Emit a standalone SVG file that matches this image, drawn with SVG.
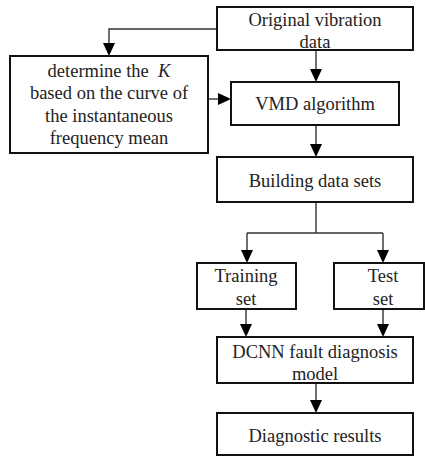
<svg xmlns="http://www.w3.org/2000/svg" width="425" height="457" viewBox="0 0 425 457">
<style>
.box{fill:#fff;stroke:#111;stroke-width:2}
.t{font-family:"Liberation Serif","Times New Roman",serif;font-size:18.5px;fill:#222;text-anchor:middle}
.c{fill:none;stroke:#333;stroke-width:1.4}
.ah{fill:#000}
</style>
<rect width="425" height="457" fill="#fff"/>
<g id="connectors">
<path class="c" d="M217,29 H109 V43"/>
<path class="ah" d="M103,43 L115,43 L109,56 Z"/>
<path class="c" d="M316,50 V69"/>
<path class="ah" d="M310,69 L322,69 L316,82 Z"/>
<path class="c" d="M208,99 H218"/>
<path class="ah" d="M218,93 L218,105 L231,99 Z"/>
<path class="c" d="M316,125 V144"/>
<path class="ah" d="M310,144 L322,144 L316,157 Z"/>
<path class="c" d="M316,202 V233 M247,233 H383 M247,233 V250 M383,233 V250"/>
<path class="ah" d="M241,250 L253,250 L247,263 Z"/>
<path class="ah" d="M377,250 L389,250 L383,263 Z"/>
<path class="c" d="M246,309 V324 M383,309 V324"/>
<path class="ah" d="M240,324 L252,324 L246,337 Z"/>
<path class="ah" d="M377,324 L389,324 L383,337 Z"/>
<path class="c" d="M316,383 V400"/>
<path class="ah" d="M310,400 L322,400 L316,413 Z"/>
</g>
<g id="original">
<rect class="box" x="217" y="7" width="196" height="43"/>
<text class="t" x="315" y="26">Original vibration</text>
<text class="t" x="315" y="48">data</text>
</g>
<g id="determine-k">
<rect class="box" x="10" y="56" width="198" height="97"/>
<text class="t" x="109" y="77">determine the&#160; <tspan font-style="italic">K</tspan></text>
<text class="t" x="109" y="99">based on the curve of</text>
<text class="t" x="109" y="122">the instantaneous</text>
<text class="t" x="109" y="144">frequency mean</text>
</g>
<g id="vmd">
<rect class="box" x="231" y="82" width="168" height="43"/>
<text class="t" x="315" y="110">VMD algorithm</text>
</g>
<g id="building">
<rect class="box" x="217" y="157" width="196" height="45"/>
<text class="t" x="315" y="187">Building data sets</text>
</g>
<g id="training">
<rect class="box" x="197" y="263" width="99" height="46"/>
<text class="t" x="246" y="282">Training</text>
<text class="t" x="246" y="305">set</text>
</g>
<g id="test">
<rect class="box" x="334" y="263" width="90" height="46"/>
<text class="t" x="383" y="282">Test</text>
<text class="t" x="383" y="305">set</text>
</g>
<g id="dcnn">
<rect class="box" x="217" y="337" width="196" height="46"/>
<text class="t" x="315" y="358">DCNN fault diagnosis</text>
<text class="t" x="315" y="380">model</text>
</g>
<g id="results">
<rect class="box" x="217" y="413" width="196" height="42"/>
<text class="t" x="315" y="442">Diagnostic results</text>
</g>
</svg>
